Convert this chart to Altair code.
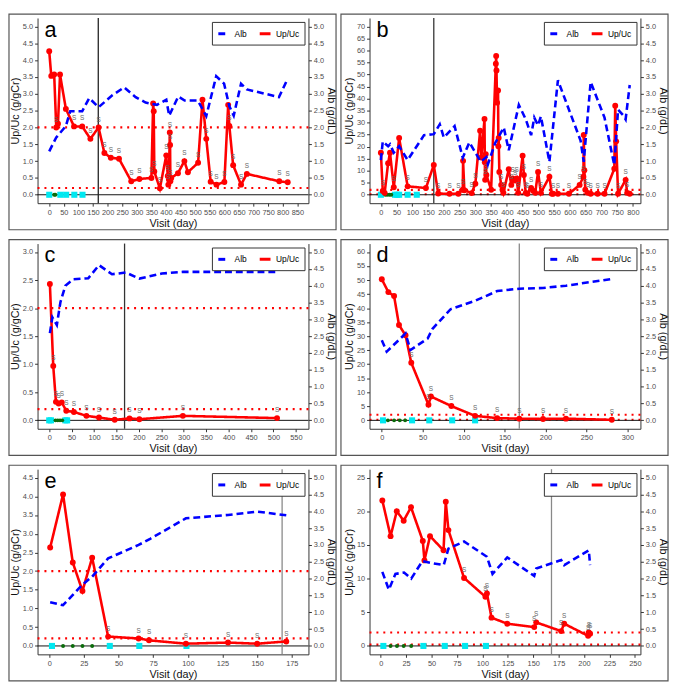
import altair as alt
import pandas as pd

# ── data ─────────────────────────────────────────────────────────────────────
A_DAY = [0, 7, 17, 24, 30, 37, 57, 85, 113, 141, 169, 189, 211, 239, 281, 309, 350, 356, 358, 360,
         379, 401, 406, 408, 410, 413, 414, 415, 418, 441, 463, 475, 510, 525, 538, 553, 573, 600, 613, 617,
         630, 657, 677, 788, 817]
A_UP = [4.26, 3.53, 3.57, 2.0, 2.11, 3.57, 2.55, 2.03, 2.03, 1.66, 2.0, 1.24, 1.1, 1.07, 0.4, 0.47, 0.5, 2.71, 2.48, 0.69,
        0.19, 1.17, 0.56, 0.3, 0.45, 1.85, 1.48, 0.4, 0.5, 0.64, 1.0, 0.67, 0.95, 2.82, 1.66, 0.39, 0.3, 0.38, 2.67, 2.04,
        0.88, 0.3, 0.62, 0.4, 0.37]
A_S = [0, 0, 0, 1, 0, 0, 0, 1, 1, 1, 1, 1, 1, 1, 1, 1, 1, 0, 0, 1,
       1, 1, 1, 1, 0, 1, 1, 1, 0, 1, 1, 0, 1, 0, 1, 1, 1, 1, 0, 1,
       1, 1, 1, 1, 1]
A_ALB_DAY = [0, 24, 57, 72, 113, 137, 169, 217, 257, 296, 330, 369, 401, 411, 442, 464, 509, 538, 572, 599,
             617, 632, 657, 677, 787, 817]
A_ALB = [1.29, 1.7, 2.04, 2.48, 2.48, 2.87, 2.6, 2.96, 3.19, 2.9, 2.74, 2.67, 2.82, 2.35, 2.92, 2.8, 2.8, 2.34, 3.52, 3.3,
         2.63, 2.35, 3.3, 3.13, 2.9, 3.45]
A_CYAN = [0, 38, 58, 86, 114]
A_GREEN = [17, 21]

B_DAY = [0, 6, 12, 23, 29, 41, 58, 85, 143, 168, 182, 218, 246, 260, 261, 265, 288, 300, 315, 319,
         329, 330, 331, 333, 335, 350, 365, 366, 367, 369, 372, 373, 374, 376, 382, 386, 389, 406, 414, 418,
         426, 431, 436, 450, 454, 460, 465, 477, 483, 490, 499, 508, 535, 543, 547, 562, 597, 631, 643, 644,
         646, 649, 657, 666, 688, 710, 741, 744, 747, 753, 777, 782, 790]
B_UP = [17.5, 1.6, 0.8, 13.1, 17.5, 3.1, 23.6, 3.5, 2.8, 12.4, 0.5, 0.4, 0.4, 2.1, 14.1, 1.9, 0.7, 4.6, 26.6, 15.5,
        31.5, 13.5, 6.2, 16.9, 8.2, 2.1, 54.5, 57.7, 51.7, 38.3, 43.4, 20.2, 23.6, 9.5, 4.1, 2.1, 0.8, 10.6, 4.1, 6.8,
        5.9, 6.8, 0.8, 16.2, 8.2, 0.8, 0.4, 2.8, 1.7, 0.8, 9.5, 0.8, 7.5, 0.4, 0.4, 0.4, 0.4, 4.1, 7.5, 24.9,
        10.2, 2.1, 0.8, 0.4, 0.4, 0.4, 10.8, 37.0, 22.2, 0.4, 6.2, 0.8, 0.4]
B_S = [0, 1, 0, 0, 0, 1, 0, 1, 1, 0, 1, 1, 1, 1, 0, 0, 1, 1, 0, 0,
       0, 0, 1, 0, 1, 0, 0, 0, 0, 0, 0, 0, 0, 0, 1, 0, 1, 0, 1, 1,
       1, 1, 1, 0, 1, 1, 1, 1, 0, 0, 1, 1, 1, 0, 1, 1, 1, 1, 1, 0,
       0, 1, 1, 1, 1, 1, 0, 0, 0, 1, 1, 1, 0]
B_ALB_DAY = [0, 6, 23, 29, 41, 58, 85, 137, 168, 187, 200, 234, 260, 281, 317, 335, 340, 363, 390, 406,
             438, 460, 477, 487, 499, 508, 535, 562, 634, 644, 666, 710, 741, 753, 770, 777, 790]
B_ALB = [1.03, 1.58, 1.44, 1.5, 1.25, 1.44, 1.03, 1.77, 1.8, 2.09, 1.7, 2.04, 1.1, 1.56, 0.98, 1.12, 0.91, 1.54, 2.0, 1.32,
         2.67, 2.24, 1.77, 2.29, 2.06, 2.33, 0.98, 3.4, 1.61, 0.98, 3.35, 2.29, 0.88, 2.53, 2.35, 2.24, 3.26]
B_CYAN = [0, 45, 52, 58, 85, 114]
B_GREEN = [14, 20, 27, 33]

C_DAY = [1.5, 9, 15, 21, 28, 38, 55, 83, 111, 146, 179, 201, 298, 508]
C_UP = [2.43, 0.97, 0.33, 0.3, 0.32, 0.17, 0.15, 0.08, 0.05, 0.01, 0.035, 0.02, 0.08, 0.04]
C_S = [0, 1, 1, 1, 1, 1, 1, 1, 1, 1, 1, 1, 1, 1]
C_ALB_DAY = [1.5, 7, 17, 25, 36, 54, 87, 111, 140, 171, 201, 251, 298, 508]
C_ALB = [2.59, 3.06, 2.83, 3.51, 4.0, 4.19, 4.22, 4.61, 4.34, 4.39, 4.21, 4.36, 4.41, 4.41]
C_CYAN = [0, 4, 36, 40]
C_GREEN = [14, 19, 24, 29]

D_DAY = [0, 8, 15, 21, 29, 36, 57, 60, 85, 114, 141, 168, 197, 225, 281]
D_UP = [50.3, 45.7, 44.3, 34.0, 30.3, 20.5, 5.6, 8.5, 5.1, 1.6, 0.8, 0.6, 0.5, 0.6, 0.2]
D_S = [0, 0, 0, 0, 0, 1, 1, 1, 1, 1, 1, 1, 1, 1, 1]
D_ALB_DAY = [0, 6, 29, 35, 56, 62, 84, 114, 141, 168, 197, 225, 281]
D_ALB = [2.38, 2.04, 2.58, 2.09, 2.43, 2.72, 3.3, 3.55, 3.84, 3.91, 3.93, 4.0, 4.2]
D_CYAN = [1.5, 37, 58, 86, 114]
D_GREEN = [7.5, 15, 22, 28.5]

E_DAY = [0.7, 10, 17, 24, 31, 42.5, 64.5, 72, 98.6, 129, 150, 171]
E_UP = [2.63, 4.05, 2.23, 1.47, 2.36, 0.25, 0.2, 0.15, 0.06, 0.09, 0.06, 0.12]
E_S = [0, 0, 0, 0, 0, 1, 1, 1, 1, 1, 1, 1]
E_ALB_DAY = [0.7, 10, 24, 31, 42.5, 64.5, 72.8, 98.6, 129, 150, 171]
E_ALB = [1.3, 1.21, 1.82, 2.06, 2.6, 3.0, 3.18, 3.79, 3.89, 3.99, 3.88]
E_CYAN = [2, 43.7, 65, 99]
E_GREEN = [10, 17, 24, 31]

F_DAY = [1.6, 9.7, 15.8, 22.6, 29.8, 41.4, 43, 48.5, 61.8, 64, 66.6, 82, 103, 104.5, 109, 124.5, 151, 153,
         177.5, 180.5, 204, 204.7, 206]
F_UP = [21.6, 16.3, 20.0, 18.6, 20.6, 15.6, 12.7, 16.3, 14.2, 21.4, 17.2, 10.1, 7.3, 7.8, 4.2, 3.3, 2.8, 3.5,
        2.2, 3.3, 1.5, 2.0, 1.8]
F_S = [0, 0, 0, 0, 0, 0, 0, 0, 0, 0, 0, 1, 1, 1, 1, 1, 1, 1, 1, 1, 1, 1, 1]
F_ALB_DAY = [1.6, 8, 14.5, 23, 30, 41, 52, 62, 66.6, 82, 104.5, 110, 124.5, 151, 153, 177.5, 180.5, 204.7, 206]
F_ALB = [2.2, 1.67, 2.14, 2.18, 2.0, 2.52, 2.45, 2.4, 2.89, 3.1, 2.65, 2.14, 2.63, 2.08, 2.3, 2.55, 2.4, 2.84, 2.4]
F_CYAN = [2.6, 42, 63, 83, 103.5]
F_GREEN = [9.7, 16, 22.6, 30]

REF_LINES = [0.2, 2.0]      # Up/Uc thresholds (dotted)
WEEK24 = 168                # vertical marker
ALB_TICKS = [i / 2 for i in range(11)]

# ── layout / style ───────────────────────────────────────────────────────────
W, H = 275, 188
ML, MR, MT, MB = 29, 28, 4, 27   # frame margins round the plot area
FONT = "Liberation Sans"


def panel(letter, day, up, s, alb_day, alb, cyan, green,
          ymax, yticks, fmt, xdom, xticks, vcol):
    xs = alt.Scale(domain=xdom, nice=False, zero=False)
    xax = alt.Axis(values=xticks, title="Visit (day)", labelOverlap=False)
    ys = alt.Scale(domain=[-0.05 * ymax, 1.05 * ymax], nice=False, zero=False)
    yax = alt.Axis(values=yticks, format=fmt, title="Up/Uc (g/gCr)")
    cs = alt.Scale(domain=["Alb", "Up/Uc"], range=["#0000FF", "#FF0000"])
    ds = alt.Scale(domain=["Alb", "Up/Uc"], range=[[7, 4], [1, 0]])
    leg = alt.Legend(orient="top-right", direction="horizontal", title=None,
                     strokeColor="#333", fillColor="white", padding=5, offset=4,
                     symbolType="stroke", symbolStrokeWidth=3, symbolSize=120,
                     labelFontSize=8.5, labelFont=FONT, columnPadding=6, labelOffset=4)

    def X():
        return alt.X("day:Q", scale=xs, axis=xax)

    def Y():
        return alt.Y("v:Q", scale=ys, axis=yax)

    red = pd.DataFrame({"day": day, "v": up, "s": ["S" if f else "" for f in s],
                        "series": "Up/Uc"})
    one = pd.DataFrame({"k": [0]})

    frame = alt.Chart(one).mark_rect(fillOpacity=0, stroke="#555", strokeWidth=1.2).encode(
        x=alt.value(-ML), x2=alt.value(W + MR), y=alt.value(-MT), y2=alt.value(H + MB))
    dotted = alt.Chart(pd.DataFrame({"v": REF_LINES})).mark_rule(
        color="#FF0000", strokeDash=[2, 5], strokeWidth=2.2).encode(y=Y())
    zero = alt.Chart(pd.DataFrame({"v": [0]})).mark_rule(color="#111", strokeWidth=1).encode(y=Y())
    vline = alt.Chart(pd.DataFrame({"day": [WEEK24]})).mark_rule(
        color=vcol, strokeWidth=1.3).encode(x=X())
    cy = alt.Chart(pd.DataFrame({"day": cyan, "v": [0] * len(cyan)})).mark_square(
        color="#00E8F0", size=38, opacity=1).encode(x=X(), y=Y())
    gr = alt.Chart(pd.DataFrame({"day": green, "v": [0] * len(green)})).mark_circle(
        color="#0B6B0B", size=16, opacity=1).encode(x=X(), y=Y())
    line = alt.Chart(red).mark_line(strokeWidth=2.6).encode(
        x=X(), y=Y(),
        color=alt.Color("series:N", scale=cs, legend=leg),
        strokeDash=alt.StrokeDash("series:N", scale=ds, legend=leg))
    pts = alt.Chart(red).mark_circle(color="#FF0000", size=36, opacity=1).encode(x=X(), y=Y())
    stext = alt.Chart(red).transform_filter("datum.s == 'S'").mark_text(
        fontSize=6.5, color="#666", dy=-8, font=FONT).encode(x=X(), y=Y(), text="s:N")
    lab = alt.Chart(one).mark_text(align="left", baseline="top", fontSize=22, font=FONT,
                                   color="black").encode(
        x=alt.value(7), y=alt.value(2), text=alt.value(letter))

    left = alt.layer(frame, dotted, zero, vline, cy, gr, line, pts, stext, lab)

    right = alt.Chart(pd.DataFrame({"day": alb_day, "alb": alb, "series": "Alb"})).mark_line(
        strokeWidth=2.6).encode(
        x=X(),
        y=alt.Y("alb:Q", scale=alt.Scale(domain=[-0.25, 5.25], nice=False, zero=False),
                axis=alt.Axis(orient="right", values=ALB_TICKS, format=".1f", title="Alb (g/dL)")),
        color=alt.Color("series:N", scale=cs, legend=leg),
        strokeDash=alt.StrokeDash("series:N", scale=ds, legend=leg),
    )

    return alt.layer(left, right).resolve_scale(y="independent").properties(width=W, height=H)


pa = panel("a", A_DAY, A_UP, A_S, A_ALB_DAY, A_ALB, A_CYAN, A_GREEN,
           5, ALB_TICKS, ".1f", [-40, 888], list(range(0, 851, 50)), "#222")
pb = panel("b", B_DAY, B_UP, B_S, B_ALB_DAY, B_ALB, B_CYAN, B_GREEN,
           70, list(range(0, 71, 5)), "d", [-36, 824], list(range(0, 801, 50)), "#333")
pc = panel("c", C_DAY, C_UP, C_S, C_ALB_DAY, C_ALB, C_CYAN, C_GREEN,
           3, [i / 2 for i in range(7)], ".1f", [-26, 578], list(range(0, 551, 50)), "#333")
pd_ = panel("d", D_DAY, D_UP, D_S, D_ALB_DAY, D_ALB, D_CYAN, D_GREEN,
            60, list(range(0, 61, 5)), "d", [-15, 316], list(range(0, 301, 50)), "#888")
pe = panel("e", E_DAY, E_UP, E_S, E_ALB_DAY, E_ALB, E_CYAN, E_GREEN,
           4.5, [i / 2 for i in range(10)], ".1f", [-8.4, 187], list(range(0, 176, 25)), "#888")
pf = panel("f", F_DAY, F_UP, F_S, F_ALB_DAY, F_ALB, F_CYAN, F_GREEN,
           25, list(range(0, 26, 5)), "d", [-11, 255.5], list(range(0, 251, 25)), "#888")


def row(l, r):
    return alt.hconcat(l, r, spacing=3).resolve_scale(
        x="independent", y="independent", color="independent", strokeDash="independent"
    ).resolve_legend(color="independent", strokeDash="independent")


chart = (
    alt.vconcat(row(pa, pb), row(pc, pd_), row(pe, pf), spacing=8)
    .resolve_scale(x="independent", y="independent", color="independent", strokeDash="independent")
    .resolve_legend(color="independent", strokeDash="independent")
    .properties(padding=0)
    .configure_view(stroke=None)
    .configure_axis(
        grid=False, labelFont=FONT, titleFont=FONT, labelFontSize=7.5, titleFontSize=11,
        titleFontWeight="normal", labelColor="#4d4d4d", titleColor="#111",
        domainColor="#333", tickColor="#333", tickSize=3, labelPadding=2, titlePadding=2,
    )
)

chart.save("out.html", embed_options={"renderer": "svg", "actions": False})
